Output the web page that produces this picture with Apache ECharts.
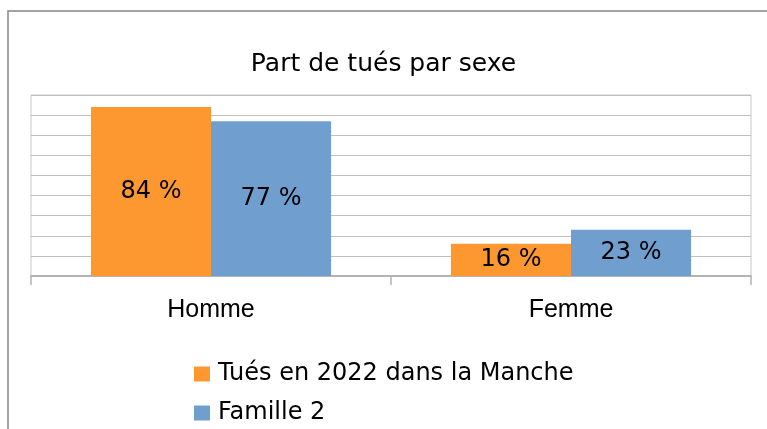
<!DOCTYPE html>
<html>
<head>
<meta charset="utf-8">
<script src="https://cdn.jsdelivr.net/npm/echarts@6/dist/echarts.min.js"></script>
<style>
  html, body { margin: 0; padding: 0; background: #fff; }
  #chart { width: 767px; height: 429px; }
</style>
</head>
<body>
<div id="chart"></div>
<script>
var categories = ['Homme', 'Femme'];
var seriesNames = ['Tués en 2022 dans la Manche', 'Famille 2'];
var tues2022 = [84, 16];
var famille2 = [77, 23];
var color = ['#fd9831', '#709ecf'];

var labelStyle = {
  show: true,
  position: 'inside',
  formatter: '{c} %',
  color: '#000',
  fontSize: 24,
  fontFamily: 'DejaVu Sans'
};

// one legend per row, stacked like the original
function legendRow(name, top) {
  return {
    left: 189,
    top: top,
    icon: 'rect',
    itemWidth: 16,
    itemHeight: 15,
    textStyle: {
      color: '#000',
      fontSize: 24,
      lineHeight: 24,
      fontFamily: 'DejaVu Sans',
      padding: [0, 0, 0, 3]
    },
    data: [name]
  };
}

var option = {
  animation: false,
  color: color,
  title: {
    text: 'Part de tués par sexe',
    left: 'center',
    top: 47,
    textStyle: {
      color: '#000',
      fontSize: 25,
      fontWeight: 'normal',
      fontFamily: 'DejaVu Sans'
    }
  },
  graphic: [
    {
      type: 'rect',
      shape: {x: 8, y: 11, width: 800, height: 450},
      style: {fill: 'none', stroke: '#868686', lineWidth: 1.5},
      silent: true
    }
  ],
  legend: [
    legendRow(seriesNames[0], 357),
    legendRow(seriesNames[1], 396)
  ],
  grid: {
    left: 31,
    right: 16,
    top: 95,
    bottom: 153,
    show: true,
    borderColor: '#c8c8c8',
    borderWidth: 1
  },
  xAxis: {
    type: 'category',
    data: categories,
    axisLine: {lineStyle: {color: '#b4b4b4', width: 2}},
    axisTick: {show: true, length: 9, lineStyle: {color: '#b4b4b4', width: 1.5}},
    axisLabel: {
      color: '#000',
      fontSize: 25,
      fontFamily: 'Liberation Sans',
      margin: 22
    }
  },
  yAxis: {
    type: 'value',
    min: 0,
    max: 90,
    interval: 10,
    axisLabel: {show: false},
    axisLine: {show: false},
    axisTick: {show: false},
    splitLine: {lineStyle: {color: '#c0c0c0', width: 1}}
  },
  series: [
    {
      name: seriesNames[0],
      type: 'bar',
      data: tues2022,
      barGap: '0%',
      barCategoryGap: '33.3%',
      label: labelStyle
    },
    {
      name: seriesNames[1],
      type: 'bar',
      data: famille2,
      barGap: '0%',
      barCategoryGap: '33.3%',
      label: labelStyle
    }
  ]
};

var myChart = echarts.init(document.getElementById('chart'));
myChart.setOption(option);
</script>
</body>
</html>
